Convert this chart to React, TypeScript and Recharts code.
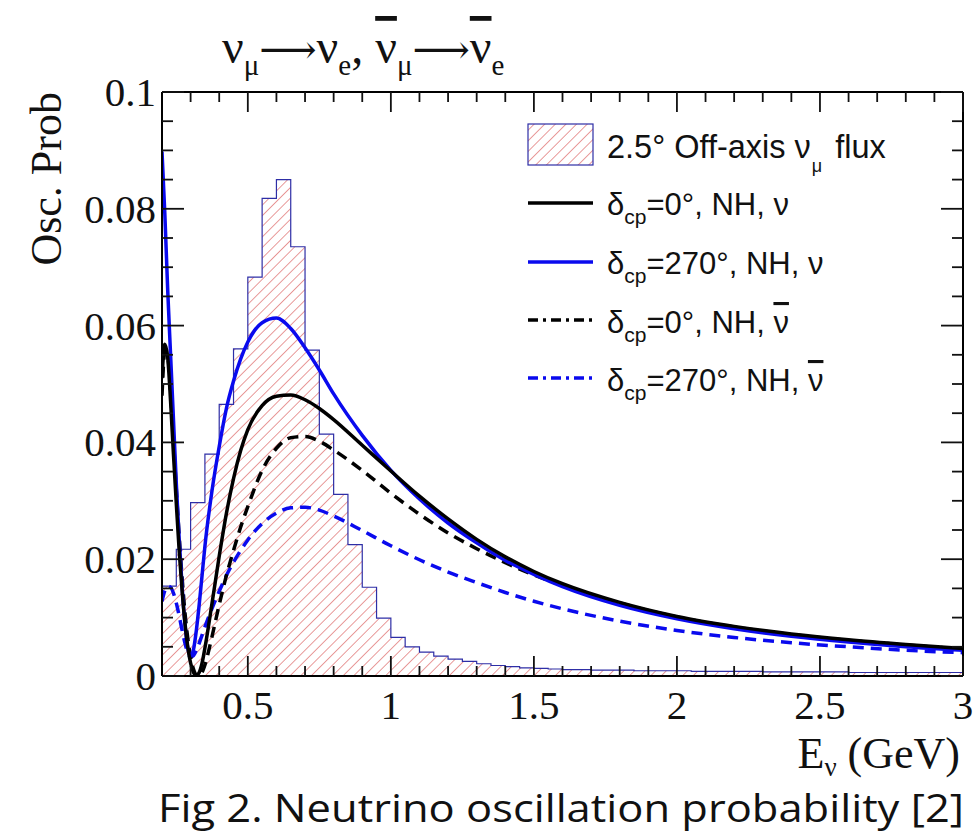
import { Area, ComposedChart, Line, ReferenceLine, XAxis, YAxis } from 'recharts';

const ENERGY = [
  0.2, 0.21, 0.22, 0.23, 0.24, 0.25, 0.26, 0.27, 0.28, 0.29, 0.3, 0.31, 0.32, 0.33, 0.34, 0.35,
  0.375, 0.4, 0.425, 0.45, 0.475, 0.5, 0.55, 0.6, 0.65, 0.7, 0.75, 0.8, 0.9, 1.0, 1.1, 1.2, 1.3,
  1.4, 1.5, 1.6, 1.8, 2.0, 2.2, 2.4, 2.6, 2.8, 3.0,
];

// delta_cp = 0, NH, neutrino
const CP0_NU = [
  0.051, 0.0568, 0.0545, 0.047, 0.038, 0.0295, 0.0215, 0.0148, 0.0092, 0.005, 0.0022, 0.0006, 0.0001,
  0.0006, 0.0022, 0.0048, 0.0125, 0.0205, 0.0278, 0.0338, 0.0386, 0.0422, 0.0463, 0.0479, 0.0481,
  0.0473, 0.0458, 0.0439, 0.0395, 0.0351, 0.0308, 0.0269, 0.0234, 0.0204, 0.0179, 0.0158, 0.0126,
  0.0102, 0.0085, 0.0072, 0.0062, 0.0054, 0.0047,
];

// delta_cp = 270, NH, neutrino
const CP270_NU = [
  0.0898, 0.079, 0.066, 0.055, 0.044, 0.033, 0.0235, 0.0155, 0.009, 0.0048, 0.0034, 0.0045, 0.0078,
  0.0122, 0.0172, 0.0222, 0.0318, 0.0393, 0.0458, 0.0505, 0.0543, 0.0572, 0.0605, 0.0613, 0.0595,
  0.0562, 0.0524, 0.0483, 0.0412, 0.0352, 0.0303, 0.0262, 0.0228, 0.0198, 0.0174, 0.0153, 0.0121,
  0.0098, 0.0081, 0.0068, 0.0058, 0.005, 0.0044,
];

// delta_cp = 0, NH, antineutrino
const CP0_NUBAR = [
  0.048, 0.0555, 0.0548, 0.0485, 0.0405, 0.032, 0.024, 0.017, 0.011, 0.0065, 0.0032, 0.0012, 0.0002,
  0.0, 0.0006, 0.0019, 0.0068, 0.0122, 0.0172, 0.0215, 0.0255, 0.029, 0.0352, 0.039, 0.0408, 0.041,
  0.0402, 0.0387, 0.0352, 0.0313, 0.0277, 0.0245, 0.0218, 0.0194, 0.0173, 0.0155, 0.0125, 0.0101,
  0.0084, 0.0071, 0.0061, 0.0053, 0.0046,
];

// delta_cp = 270, NH, antineutrino
const CP270_NUBAR = [
  0.0128, 0.0146, 0.0154, 0.0152, 0.0142, 0.0125, 0.0103, 0.0079, 0.0057, 0.004, 0.0033, 0.0035,
  0.0044, 0.0056, 0.007, 0.0084, 0.0116, 0.0145, 0.0172, 0.0195, 0.0215, 0.0233, 0.0261, 0.0279,
  0.0288, 0.0289, 0.0284, 0.0274, 0.0249, 0.0223, 0.0199, 0.0178, 0.016, 0.0143, 0.0128, 0.0115,
  0.0094, 0.0078, 0.0066, 0.0057, 0.005, 0.0044, 0.004,
];

// flux histogram: left bin edges (last entry closes the final bin)
const BIN_EDGES = [
  0.2, 0.25, 0.3, 0.35, 0.4, 0.45, 0.5, 0.55, 0.6, 0.65, 0.7, 0.75, 0.8, 0.85, 0.9, 0.95, 1.0, 1.05,
  1.1, 1.15, 1.2, 1.25, 1.3, 1.35, 1.4, 1.45, 1.5, 1.55, 1.6, 1.65, 1.7, 1.75, 1.8, 1.85, 1.9, 1.95,
  2.0, 2.05, 2.1, 2.15, 2.2, 2.25, 2.3, 2.35, 2.4, 2.45, 2.5, 2.55, 2.6, 2.65, 2.7, 2.75, 2.8, 2.85,
  2.9, 2.95, 3.0,
];
const FLUX = [
  0.0154, 0.0217, 0.0297, 0.038, 0.0465, 0.056, 0.0683, 0.0818, 0.085, 0.0735, 0.0558, 0.0414,
  0.0311, 0.0225, 0.0152, 0.0099, 0.0066, 0.005, 0.0041, 0.0034, 0.0029, 0.0025, 0.0021, 0.0018,
  0.0016, 0.0014, 0.0013, 0.0012, 0.0011, 0.0011, 0.001, 0.001, 0.001, 0.0009, 0.0009, 0.0009,
  0.0009, 0.0008, 0.0008, 0.0008, 0.0008, 0.0008, 0.0007, 0.0007, 0.0007, 0.0007, 0.0007, 0.0007,
  0.0006, 0.0006, 0.0006, 0.0006, 0.0006, 0.0006, 0.0006, 0.0006, 0.0006,
];

const X_MINOR = [
  0.3, 0.4, 0.6, 0.7, 0.8, 0.9, 1.1, 1.2, 1.3, 1.4, 1.6, 1.7, 1.8, 1.9, 2.1, 2.2, 2.3, 2.4, 2.6,
  2.7, 2.8, 2.9,
];
const X_MAJOR = [0.5, 1, 1.5, 2, 2.5, 3];
const Y_MINOR = [
  0.005, 0.01, 0.015, 0.025, 0.03, 0.035, 0.045, 0.05, 0.055, 0.065, 0.07, 0.075, 0.085, 0.09, 0.095,
];
const Y_MAJOR = [0, 0.02, 0.04, 0.06, 0.08, 0.1];

const curves = ENERGY.map((e, i) => ({
  e,
  cp0: CP0_NU[i],
  cp270: CP270_NU[i],
  cp0bar: CP0_NUBAR[i],
  cp270bar: CP270_NUBAR[i],
}));
const flux = BIN_EDGES.map((e, i) => ({ e, flux: FLUX[i] }));

const BLUE = '#0a0aee';
const HIST_LINE = '#2e2ea6';
const SERIF = 'Liberation Serif';
const SANS = 'Liberation Sans';
const X_DOMAIN: [number, number] = [0.2, 3];
const Y_DOMAIN: [number, number] = [0, 0.1];

// plot box inside the 979x837 figure (matches the chart margins below)
const BOX = { left: 162, right: 963, top: 92, bottom: 676 };
const px = (v: number) =>
  BOX.left + ((v - X_DOMAIN[0]) / (X_DOMAIN[1] - X_DOMAIN[0])) * (BOX.right - BOX.left);
const py = (v: number) =>
  BOX.bottom - ((v - Y_DOMAIN[0]) / (Y_DOMAIN[1] - Y_DOMAIN[0])) * (BOX.bottom - BOX.top);

const axisLine = { stroke: '#000', strokeWidth: 2 };

const XLabel = ({ x, y, payload }: any) => (
  <text x={x} y={y + 43} textAnchor="middle" fontFamily={SERIF} fontSize={41} fill="#111">
    {payload.value}
  </text>
);

const YLabel = ({ x, y, payload }: any) => (
  <text x={x - 6} y={y + 14} textAnchor="end" fontFamily={SERIF} fontSize={41} fill="#111">
    {payload.value}
  </text>
);

function Delta({ x, y, cp, bar }: { x: number; y: number; cp: string; bar: boolean }) {
  return (
    <text x={x} y={y} fontFamily={SANS} fontSize={31} fill="#111">
      δ<tspan fontSize={21} dy={9}>cp</tspan>
      <tspan dy={-9}>={cp}°, NH, </tspan>
      <tspan style={bar ? { textDecoration: 'overline' } : undefined}>ν</tspan>
    </text>
  );
}

// inward ROOT-style ticks on all four sides
function FrameTicks() {
  const s = { stroke: '#111', strokeWidth: 1.8 };
  return (
    <g>
      {X_MAJOR.concat(X_MINOR).map(v => {
        const len = X_MAJOR.includes(v) ? 20 : 10;
        const x = px(v);
        return (
          <g key={`x${v}`}>
            <line x1={x} x2={x} y1={BOX.bottom} y2={BOX.bottom - len} {...s} />
            <line x1={x} x2={x} y1={BOX.top} y2={BOX.top + len} {...s} />
          </g>
        );
      })}
      {Y_MAJOR.concat(Y_MINOR).map(v => {
        const len = Y_MAJOR.includes(v) ? 22 : 11;
        const y = py(v);
        return (
          <g key={`y${v}`}>
            <line x1={BOX.left} x2={BOX.left + len} y1={y} y2={y} {...s} />
            <line x1={BOX.right} x2={BOX.right - len} y1={y} y2={y} {...s} />
          </g>
        );
      })}
    </g>
  );
}

export default function App() {
  return (
    <div style={{ position: 'absolute', left: 0, top: 0, width: 979, height: 837, background: '#fff' }}>
      <svg width={0} height={0} style={{ position: 'absolute' }}>
        <defs>
          <pattern id="hatch" patternUnits="userSpaceOnUse" width={7.5} height={7.5} patternTransform="rotate(45)">
            <line x1={0} y1={0} x2={0} y2={7.5} stroke="#dc6464" strokeWidth={1.3} />
          </pattern>
        </defs>
      </svg>
      <ComposedChart
        width={979}
        height={837}
        data={curves}
        margin={{ top: BOX.top, right: 979 - BOX.right, bottom: 837 - BOX.bottom - 1, left: BOX.left - 1 }}
      >
        <XAxis
          dataKey="e"
          type="number"
          domain={X_DOMAIN}
          allowDataOverflow
          ticks={X_MAJOR}
          interval={0}
          height={1}
          tickSize={0}
          tickMargin={0}
          tickLine={false}
          tick={<XLabel />}
          axisLine={axisLine}
        />
        <YAxis
          type="number"
          domain={Y_DOMAIN}
          allowDataOverflow
          ticks={Y_MAJOR}
          interval={0}
          width={1}
          tickSize={0}
          tickMargin={0}
          tickLine={false}
          tick={<YLabel />}
          axisLine={axisLine}
        />

        <Area
          data={flux}
          dataKey="flux"
          type="stepAfter"
          stroke={HIST_LINE}
          strokeWidth={1.2}
          fill="url(#hatch)"
          fillOpacity={1}
          isAnimationActive={false}
        />
        <Line dataKey="cp270bar" type="monotone" stroke={BLUE} strokeWidth={3.5} strokeDasharray="11 7" dot={false} isAnimationActive={false} />
        <Line dataKey="cp0bar" type="monotone" stroke="#000" strokeWidth={3.5} strokeDasharray="11 7" dot={false} isAnimationActive={false} />
        <Line dataKey="cp270" type="monotone" stroke={BLUE} strokeWidth={3.5} dot={false} isAnimationActive={false} />
        <Line dataKey="cp0" type="monotone" stroke="#000" strokeWidth={3.5} dot={false} isAnimationActive={false} />

        {/* top and right edges of the frame */}
        <ReferenceLine y={Y_DOMAIN[1]} stroke="#000" strokeWidth={2} ifOverflow="visible" />
        <ReferenceLine x={X_DOMAIN[1]} stroke="#000" strokeWidth={2} ifOverflow="visible" />
      </ComposedChart>

      <svg
        width={979}
        height={837}
        style={{ position: 'absolute', left: 0, top: 0, pointerEvents: 'none' }}
      >
        <FrameTicks />

        {/* title */}
        <text x={222} y={63} fontFamily={SERIF} fontSize={48} fill="#111">
          ν<tspan fontSize={29} dy={12}>μ</tspan>
          <tspan dy={-12} fontFamily="DejaVu Serif" fontSize={40}>⟶</tspan>
          <tspan>ν</tspan>
          <tspan fontSize={29} dy={12}>e</tspan>
          <tspan dy={-12}>, </tspan>
          <tspan style={{ textDecoration: 'overline' }}>ν</tspan>
          <tspan fontSize={29} dy={12}>μ</tspan>
          <tspan dy={-12} fontFamily="DejaVu Serif" fontSize={40}>⟶</tspan>
          <tspan style={{ textDecoration: 'overline' }}>ν</tspan>
          <tspan fontSize={29} dy={12}>e</tspan>
        </text>

        {/* axis titles */}
        <text
          transform="translate(61,92) rotate(-90)"
          textAnchor="end"
          fontFamily={SERIF}
          fontSize={44}
          fill="#111"
        >
          Osc. Prob
        </text>
        <text x={960} y={768} textAnchor="end" fontFamily={SERIF} fontSize={44} fill="#111">
          E<tspan fontSize={27} dy={8}>ν</tspan>
          <tspan dy={-8}> (GeV)</tspan>
        </text>

        {/* legend */}
        <rect x={528} y={124} width={65} height={41} fill="url(#hatch)" stroke={HIST_LINE} strokeWidth={1.2} />
        <text x={607} y={158} fontFamily={SANS} fontSize={32.5} fill="#111">
          2.5° Off-axis ν<tspan fontSize={18} dx={1} dy={14}>μ</tspan>
          <tspan dx={4} dy={-14}> flux</tspan>
        </text>
        <line x1={528} x2={593} y1={203} y2={203} stroke="#000" strokeWidth={3.5} />
        <Delta x={607} y={215} cp="0" bar={false} />
        <line x1={528} x2={593} y1={262} y2={262} stroke={BLUE} strokeWidth={3.5} />
        <Delta x={607} y={274} cp="270" bar={false} />
        <line x1={528} x2={593} y1={320} y2={320} stroke="#000" strokeWidth={3.5} strokeDasharray="10 5 3 5" />
        <Delta x={607} y={333} cp="0" bar />
        <line x1={528} x2={593} y1={378} y2={378} stroke={BLUE} strokeWidth={3.5} strokeDasharray="10 5 3 5" />
        <Delta x={607} y={391} cp="270" bar />

        {/* caption */}
        <text
          x={158}
          y={822}
          textLength={806}
          lengthAdjust="spacingAndGlyphs"
          fontFamily="Open Sans"
          fontSize={39}
          fill="#111"
        >
          Fig 2. Neutrino oscillation probability [2]
        </text>
      </svg>
    </div>
  );
}
